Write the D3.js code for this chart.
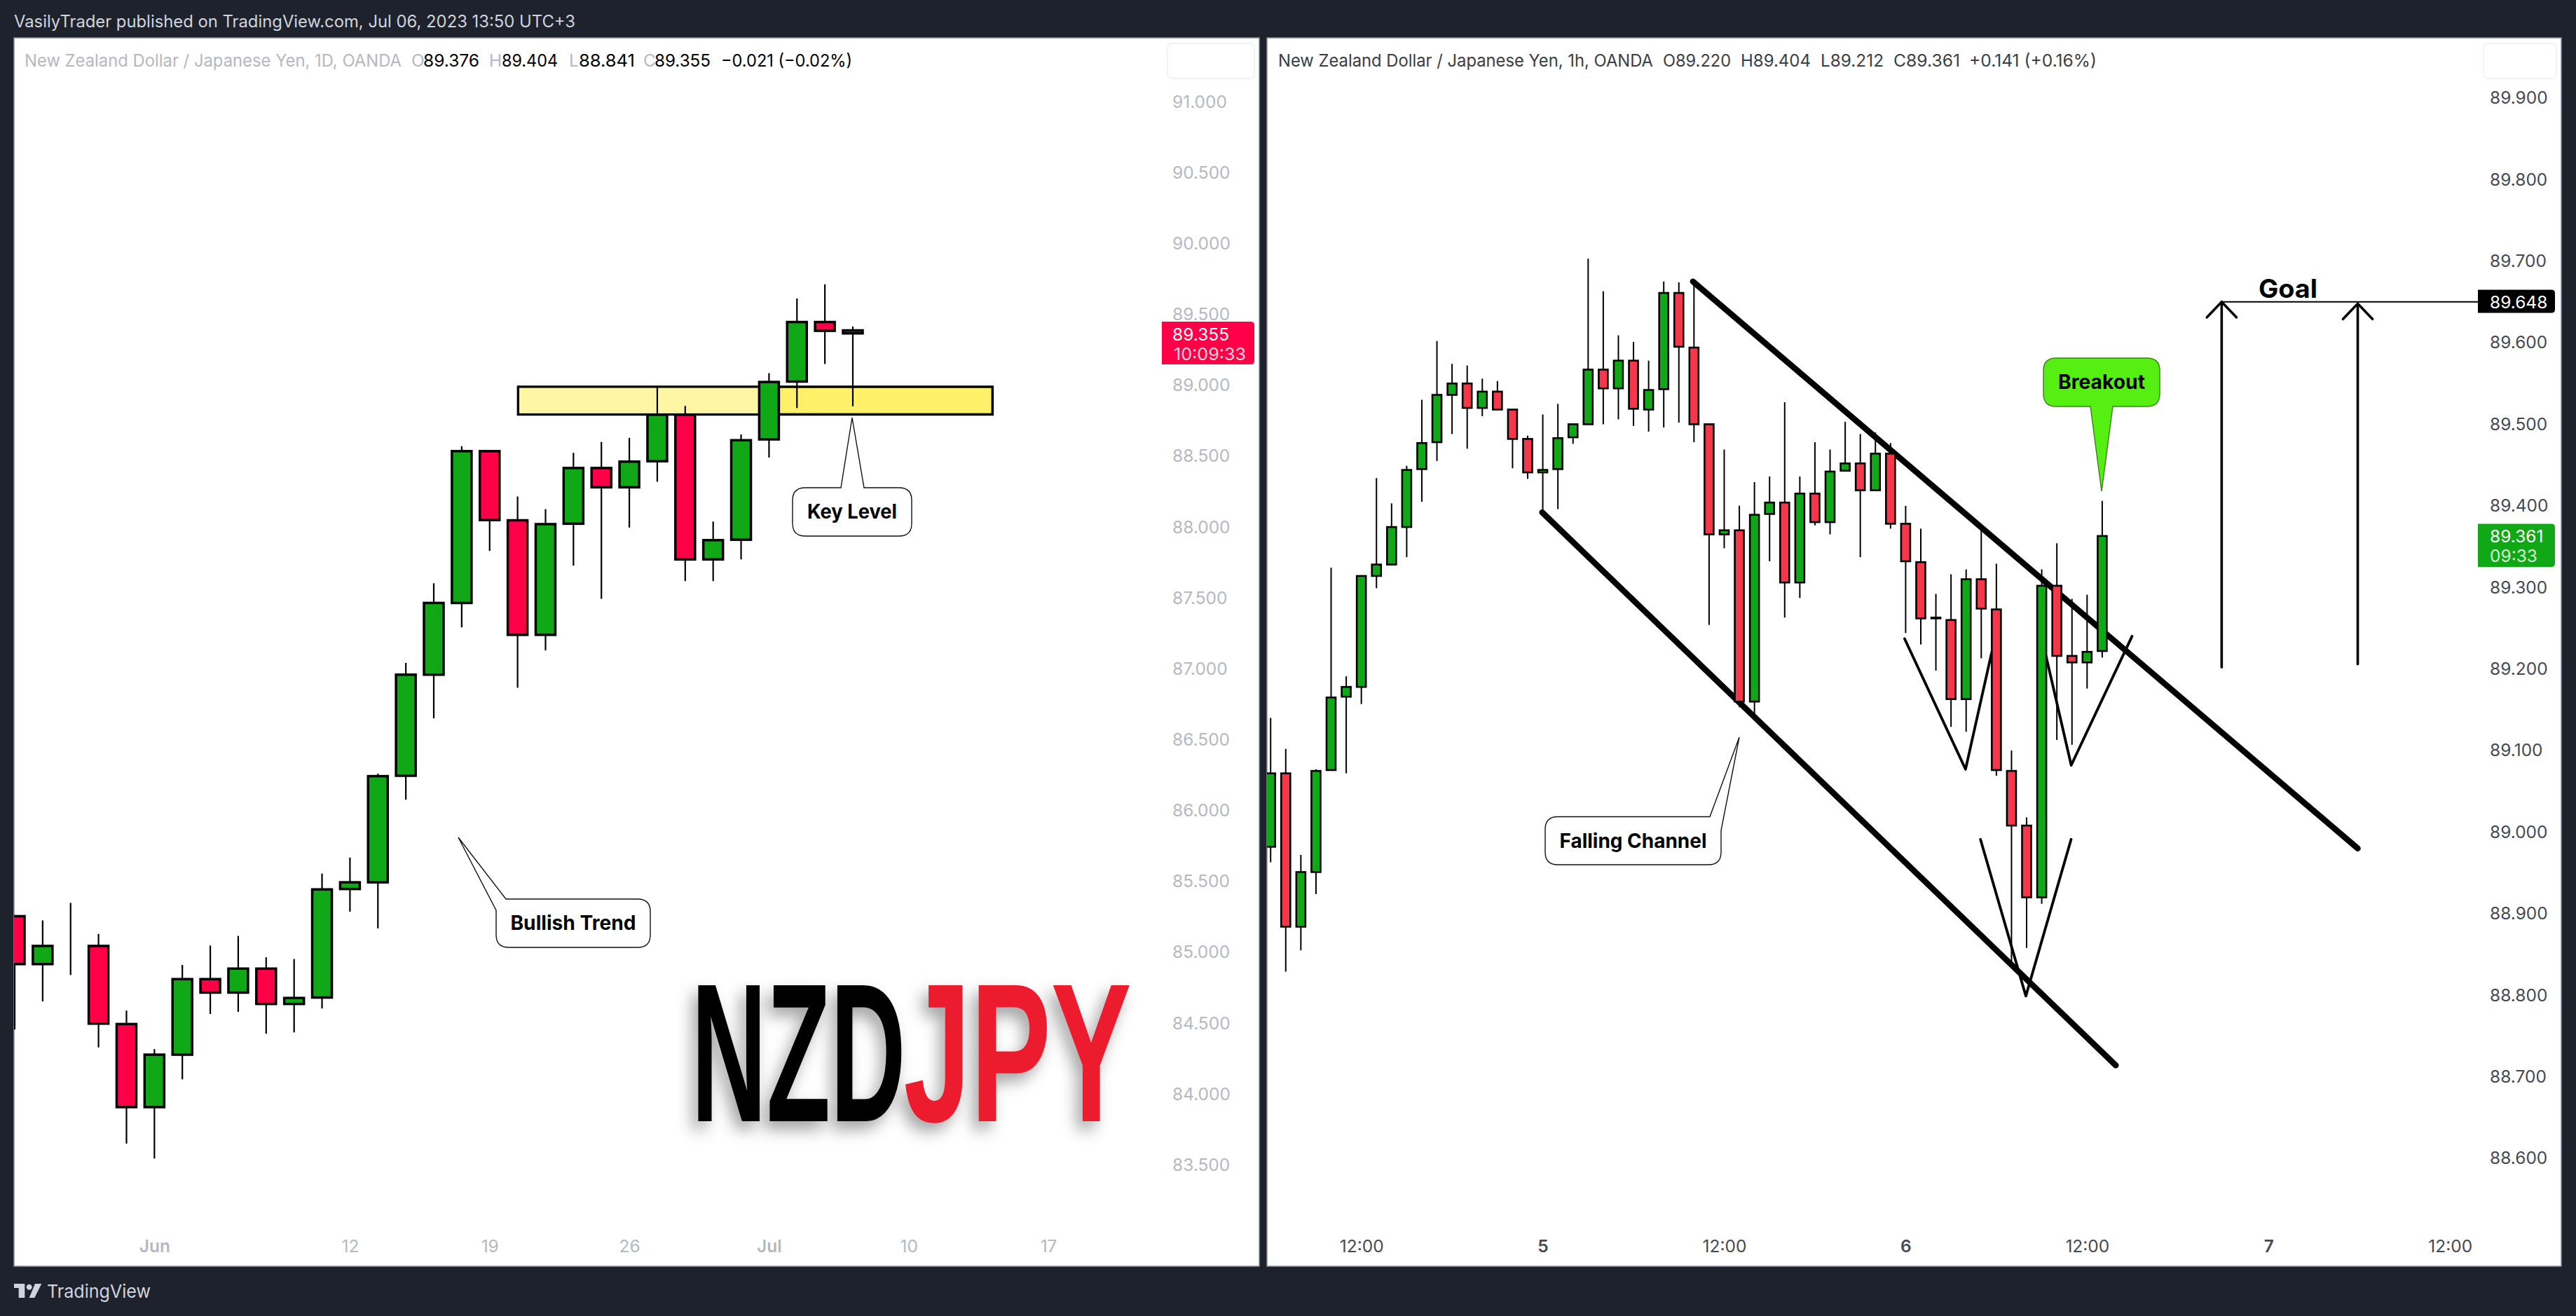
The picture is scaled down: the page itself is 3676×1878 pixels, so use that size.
<!DOCTYPE html>
<html><head><meta charset="utf-8">
<script src="https://cdnjs.cloudflare.com/ajax/libs/d3/7.8.5/d3.min.js"></script>
<style>
html,body{margin:0;padding:0;background:#1e222d;}
svg{display:block;font-family:Inter,Roboto,"Noto Sans",sans-serif;}
</style></head><body><svg id="c" width="3676" height="1878"></svg>
<script>
// ---------- Daily chart data ----------
const dailyOpen  = [85.243,84.905,85.033,85.033,84.482,83.896,84.266,84.799,84.704,84.873,84.624,84.669,85.435,85.482,86.234,86.947,87.453,88.524,88.036,87.228,88.012,88.405,88.269,88.453,88.781,87.760,87.899,88.607,89.015,89.435,89.376];
const dailyHigh  = [85.243,85.213,85.337,85.118,84.577,84.305,84.899,85.036,85.104,84.953,84.941,85.544,85.657,86.249,87.030,87.592,88.559,88.524,88.204,88.115,88.512,88.589,88.618,88.982,88.843,88.027,88.642,89.074,89.601,89.701,89.404];
const dailyLow   = [84.444,84.642,84.828,84.317,83.639,83.533,84.092,84.553,84.568,84.414,84.423,84.592,85.275,85.157,86.065,86.639,87.281,87.820,86.855,87.118,87.716,87.482,87.985,88.308,87.607,87.607,87.760,88.479,88.828,89.139,88.841];
const dailyClose = [84.905,85.033,85.033,84.485,83.896,84.266,84.799,84.704,84.873,84.624,84.666,85.432,85.482,86.231,86.947,87.453,88.524,88.038,87.228,88.009,88.405,88.269,88.450,88.781,87.760,87.896,88.601,89.012,89.435,89.373,89.355];
const dailyPriceTicks = [91,90.5,90,89.5,89,88.5,88,87.5,87,86.5,86,85.5,85,84.5,84,83.5];
const dailyTimeIdx    = [5,12,17,22,27,32,37];
const dailyTimeLabels = ["Jun","12","19","26","Jul","10","17"];
const keyLevelZone    = [18.02,35,88.978,88.783]; // bar from, bar to, price top, price bottom
const keyLevelPaleTo  = 27;

// ---------- Hourly chart data ----------
const hourlyOpen  = [88.980,89.070,88.882,88.949,89.074,89.164,89.176,89.312,89.326,89.372,89.443,89.476,89.534,89.548,89.518,89.538,89.516,89.480,89.439,89.443,89.482,89.498,89.565,89.542,89.576,89.516,89.541,89.659,89.592,89.498,89.363,89.368,89.158,89.388,89.402,89.304,89.413,89.378,89.441,89.450,89.417,89.462,89.376,89.329,89.261,89.258,89.161,89.308,89.271,89.073,89.006,88.918,89.300,89.214,89.206,89.220];
const hourlyHigh  = [89.138,89.100,88.970,89.075,89.322,89.189,89.312,89.432,89.401,89.447,89.528,89.600,89.572,89.570,89.554,89.551,89.516,89.484,89.510,89.523,89.498,89.701,89.661,89.607,89.599,89.576,89.673,89.672,89.674,89.498,89.467,89.398,89.427,89.434,89.525,89.434,89.476,89.467,89.501,89.486,89.488,89.475,89.398,89.370,89.290,89.314,89.320,89.369,89.327,89.098,89.016,89.320,89.352,89.284,89.289,89.404];
const hourlyLow   = [88.961,88.827,88.853,88.922,89.074,89.070,89.155,89.297,89.326,89.335,89.403,89.453,89.486,89.468,89.508,89.516,89.444,89.431,89.390,89.394,89.474,89.498,89.498,89.504,89.496,89.489,89.494,89.500,89.476,89.252,89.346,89.151,89.143,89.330,89.261,89.285,89.374,89.363,89.441,89.335,89.417,89.370,89.242,89.228,89.196,89.127,89.121,89.211,89.067,88.835,88.856,88.910,89.111,89.105,89.174,89.212];
const hourlyClose = [89.070,88.882,88.949,89.073,89.163,89.176,89.312,89.326,89.372,89.442,89.475,89.534,89.548,89.518,89.538,89.516,89.480,89.439,89.442,89.481,89.498,89.565,89.542,89.576,89.517,89.540,89.659,89.593,89.498,89.363,89.368,89.158,89.387,89.402,89.304,89.413,89.378,89.440,89.450,89.417,89.462,89.376,89.330,89.260,89.260,89.161,89.308,89.272,89.074,89.006,88.918,89.300,89.214,89.206,89.219,89.361];
const hourlyPriceTicks = [89.9,89.8,89.7,89.6,89.5,89.4,89.3,89.2,89.1,89.0,88.9,88.8,88.7,88.6];
const hourlyTimeIdx    = [6,18,30,42,54,66,78];
const hourlyTimeLabels = ["12:00","5","12:00","6","12:00","7","12:00"];
const hourlyBoldLabels = ["5","6","7"];
const channelUpper = [[27.93,89.673],[71.9,88.978]];
const channelLower = [[17.96,89.390],[55.9,88.712]];
const wedgeA = [[41.93,89.235],[45.96,89.075],[47.87,89.233]];
const wedgeB = [[51.07,89.231],[52.95,89.080],[56.97,89.238]];
const wedgeC = [[46.95,88.989],[49.95,88.797],[52.94,88.989]];
const goalPrice = 89.648;
const goalArrows = [[62.9,89.200,0],[71.9,89.204,2.5]];  // bar, foot price, tip gap below the goal line

// ---------- Style ----------
const GREEN="#11a818", RED_D="#ff0048", RED_H="#f4374a", DARK="#1e222d", LIME="#55f011";
const AXIS_D="#b6b8c1", AXIS_H="#454955", FS=24.5;

const svg=d3.select("#c");
const defs=svg.append("defs");
function clip(id,x,y,w,h){defs.append("clipPath").attr("id",id).append("rect").attr("x",x).attr("y",y).attr("width",w).attr("height",h);}
const PL={x0:20,x1:1797,y0:54,y1:1807}, PR={x0:1808,x1:3655,y0:54,y1:1807};
clip("cl",PL.x0,PL.y0,PL.x1-PL.x0,PL.y1-PL.y0);
clip("cr",PR.x0,PR.y0,PR.x1-PR.x0,PR.y1-PR.y0);
const sh=defs.append("filter").attr("id","shadow").attr("x","-20%").attr("y","-20%").attr("width","140%").attr("height","150%");
sh.append("feDropShadow").attr("dx",-8).attr("dy",12).attr("stdDeviation",11).attr("flood-color","#000").attr("flood-opacity",.36);

svg.append("rect").attr("width",3676).attr("height",1878).attr("fill",DARK);
[PL,PR].forEach(p=>svg.append("rect").attr("x",p.x0).attr("y",p.y0).attr("width",p.x1-p.x0).attr("height",p.y1-p.y0).attr("fill","#fff").attr("stroke","#8a8d96").attr("stroke-width",1.5));

// scales
const xD=d3.scaleLinear().domain([0,30]).range([21,1217]);
const yD=d3.scaleLinear().domain([91,83.5]).range([143,1660]);
const xH=d3.scaleLinear().domain([0,55]).range([1813.2,2999.9]);
const yH=d3.scaleLinear().domain([89.9,88.6]).range([137.5,1650.7]);

function bars(g,x,y,o,h,l,c,bw,sw,wick,red){
  const rows=d3.range(o.length).map(i=>({i,o:o[i],h:h[i],l:l[i],c:c[i]}));
  g.selectAll(".w").data(rows).join("line").attr("class","w")
    .attr("x1",d=>x(d.i)).attr("x2",d=>x(d.i)).attr("y1",d=>y(d.h)).attr("y2",d=>y(d.l))
    .attr("stroke","#000").attr("stroke-width",wick);
  g.selectAll(".b").data(rows).join("rect").attr("class","b")
    .attr("x",d=>x(d.i)-bw/2).attr("width",bw)
    .attr("y",d=>y(Math.max(d.o,d.c)))
    .attr("height",d=>Math.abs(y(d.o)-y(d.c)))
    .attr("fill",d=>d.c>=d.o?GREEN:red)
    .attr("stroke","#000").attr("stroke-width",sw);
}
function priceAxis(y,ticks,x,color){
  const a=svg.append("g").attr("transform",`translate(${x},0)`)
    .call(d3.axisRight(y).tickValues(ticks).tickFormat(d3.format(".3f")).tickSize(0).tickPadding(0));
  a.select(".domain").remove();
  a.selectAll("text").attr("fill",color).attr("font-size",FS).attr("font-family",'Inter,sans-serif').attr("dy",".42em");
}
function timeAxis(x,idx,labels,yp,color,boldSet){
  const a=svg.append("g").attr("transform",`translate(0,${yp})`)
    .call(d3.axisBottom(x).tickValues(idx).tickFormat((d,i)=>labels[i]).tickSize(0).tickPadding(0));
  a.select(".domain").remove();
  a.selectAll("text").attr("fill",color).attr("font-size",FS).attr("font-family",'Inter,sans-serif')
    .attr("font-weight",(d,i)=>boldSet.includes(labels[i])?600:400);
}
function txt(x,y,s,o={}){
  const t=svg.append("text").attr("x",x).attr("y",y).attr("dy",".35em").text(s)
    .attr("font-size",o.fs||FS).attr("fill",o.fill||"#000").attr("font-weight",o.fw||400)
    .attr("text-anchor",o.anchor||"start");
  if(o.len) t.attr("textLength",o.len).attr("lengthAdjust","spacingAndGlyphs");
  return t;
}

// ---------- Left pane ----------
const gL=svg.append("g").attr("clip-path","url(#cl)");
const z=keyLevelZone;
gL.append("rect").attr("x",xD(z[0])).attr("width",xD(z[1])-xD(z[0])).attr("y",yD(z[2])).attr("height",yD(z[3])-yD(z[2])).attr("fill","#fff06a").attr("stroke","#000").attr("stroke-width",3.5);
gL.append("rect").attr("x",xD(z[0])+1.75).attr("width",xD(keyLevelPaleTo)-xD(z[0])).attr("y",yD(z[2])+1.75).attr("height",yD(z[3])-yD(z[2])-3.5).attr("fill","#fff6a3");
bars(gL,xD,yD,dailyOpen,dailyHigh,dailyLow,dailyClose,28,3.5,2.2,RED_D);
priceAxis(yD,dailyPriceTicks,1673,AXIS_D);
timeAxis(xD,dailyTimeIdx,dailyTimeLabels,1770,AXIS_D,["Jun","Jul"]);

// ---------- Right pane ----------
const gR=svg.append("g").attr("clip-path","url(#cr)");
const line=d3.line().x(d=>xH(d[0])).y(d=>yH(d[1]));
[channelUpper,channelLower].forEach(c=>gR.append("path").attr("d",line(c)).attr("fill","none").attr("stroke","#000").attr("stroke-width",8.5).attr("stroke-linecap","round"));
[wedgeA,wedgeB,wedgeC].forEach(c=>gR.append("path").attr("d",line(c)).attr("fill","none").attr("stroke","#000").attr("stroke-width",3.8).attr("stroke-linecap","round").attr("stroke-linejoin","round"));
bars(gR,xH,yH,hourlyOpen,hourlyHigh,hourlyLow,hourlyClose,13,2.6,2,RED_H);
// goal
gR.append("line").attr("x1",xH(goalArrows[0][0])).attr("x2",3536).attr("y1",yH(goalPrice)).attr("y2",yH(goalPrice)).attr("stroke","#000").attr("stroke-width",2);
goalArrows.forEach(a=>{
  const X=xH(a[0]),T=yH(goalPrice)+a[2];
  gR.append("path").attr("d",`M${X},${yH(a[1])}V${T}M${X-21},${T+22}L${X},${T}L${X+21},${T+22}`).attr("fill","none").attr("stroke","#000").attr("stroke-width",3.6).attr("stroke-linecap","round");
});
priceAxis(yH,hourlyPriceTicks,3553,AXIS_H);
timeAxis(xH,hourlyTimeIdx,hourlyTimeLabels,1770,AXIS_H,hourlyBoldLabels);
txt(3265,412,"Goal",{fs:37,fw:700,anchor:"middle",len:84});

// ---------- Callouts ----------
// side: where the pointer leaves the box; a,b are the two points on the outline it joins
function callout(c){
  const {x0,x1,y0,y1}=c, r=18, T=c.tip, A=c.a, B=c.b;
  const cTL=`L${x0},${y0+r}Q${x0},${y0} ${x0+r},${y0}`, cTR=`L${x1-r},${y0}Q${x1},${y0} ${x1},${y0+r}`,
        cBR=`L${x1},${y1-r}Q${x1},${y1} ${x1-r},${y1}`, cBL=`L${x0+r},${y1}Q${x0},${y1} ${x0},${y1-r}`;
  let d;
  if(c.side==="top")    d=`M${x0+r},${y0}L${A},${y0}L${T[0]},${T[1]}L${B},${y0}${cTR}${cBR}${cBL}${cTL}Z`;
  if(c.side==="bottom") d=`M${x0+r},${y0}${cTR}${cBR}L${B},${y1}L${T[0]},${T[1]}L${A},${y1}${cBL}${cTL}Z`;
  if(c.side==="tl")     d=`M${x0},${B}L${T[0]},${T[1]}L${A},${y0}${cTR}${cBR}${cBL}Z`;
  if(c.side==="tr")     d=`M${x0+r},${y0}L${A},${y0}L${T[0]},${T[1]}L${x1},${B}${cBR}${cBL}${cTL}Z`;
  svg.append("path").attr("d",d).attr("fill",c.fill||"#fff").attr("stroke",c.stroke||"#111").attr("stroke-width",1.4);
  txt((x0+x1)/2,(y0+y1)/2,c.text,{fs:28,fw:700,anchor:"middle",len:c.len});
}
callout({text:"Key Level",x0:1131,x1:1301,y0:696,y1:765,side:"top",a:1200,b:1233,tip:[1216,596],len:128});
callout({text:"Bullish Trend",x0:708,x1:928,y0:1283,y1:1352,side:"tl",a:722,b:1299,tip:[654,1195],len:179});
callout({text:"Falling Channel",x0:2205,x1:2456,y0:1165.5,y1:1234,side:"tr",a:2440,b:1185,tip:[2482,1052],len:210});
callout({text:"Breakout",x0:2916,x1:3082,y0:511,y1:580,side:"bottom",a:2983,b:3015,tip:[2999,701],fill:LIME,stroke:"#3d7d1c",len:124});

// ---------- Price labels ----------
function tag(x,y,w,h,color){
  svg.append("path").attr("d",`M${x},${y}H${x+w-5}Q${x+w},${y} ${x+w},${y+5}V${y+h-5}Q${x+w},${y+h} ${x+w-5},${y+h}H${x}Z`).attr("fill",color);
}
tag(1658,459,132,61,RED_D);
txt(1673,477,"89.355",{fill:"#fff"});
txt(1675,505,"10:09:33",{fill:"#ffd5df",len:103});
tag(3536,413.5,110,33,"#000");
txt(3553,431,"89.648",{fill:"#fff"});
tag(3536,747.5,110,61.5,GREEN);
txt(3553,765,"89.361",{fill:"#fff"});
txt(3553,793,"09:33",{fill:"#d4f0d5"});

// ---------- Legends ----------
const PALE="#b6b8c1", INK="#3a3e49";
txt(35,86,"New Zealand Dollar / Japanese Yen, 1D, OANDA",{fill:PALE,len:538});
[["O",587],["H",698],["L",812],["C",918]].forEach(a=>txt(a[1],86,a[0],{fill:PALE}));
[["89.376",604],["89.404",716],["88.841",826],["89.355",934]].forEach(a=>txt(a[1],86,a[0],{fill:"#000",len:80}));
txt(1029,86,"−0.021 (−0.02%)",{fill:"#000",len:187});
txt(1824,86,"New Zealand Dollar / Japanese Yen, 1h, OANDA",{fill:INK,len:535});
[["O89.220",2373,97],["H89.404",2484,100],["L89.212",2598,90],["C89.361",2702,95]].forEach(a=>txt(a[1],86,a[0],{fill:INK,len:a[2]}));
txt(2810,86,"+0.141 (+0.16%)",{fill:INK,len:182});
[[1666,124],[3544,104]].forEach(a=>svg.append("rect").attr("x",a[0]).attr("y",62).attr("width",a[1]).attr("height",50).attr("rx",6).attr("fill","#fff").attr("stroke","#f0f3fa").attr("stroke-width",2));

// ---------- Logo word ----------
const logo=svg.append("g").attr("filter","url(#shadow)").attr("font-family",'"Liberation Sans Narrow","Liberation Sans",sans-serif').attr("font-weight",700).attr("font-size",282);
[["NZD",986.5,306,"#000"],["JPY",1289.5,325,"#ec1c2e"]].forEach(w=>{
  const t=logo.append("text").attr("fill",w[3]).text(w[0]);
  const sx=w[2]/t.node().getComputedTextLength();
  t.attr("transform",`translate(${w[1]},1600) scale(${sx},1)`);
});

// ---------- Frame text ----------
txt(20,31,"VasilyTrader published on TradingView.com, Jul 06, 2023 13:50 UTC+3",{fill:"#d1d4dc",fs:24,len:801});
svg.append("path").attr("d","M20,1832H35.3V1852H26.7V1838H20ZM41.7,1852L50,1832H59.3L49.3,1852ZM41.7,1832.7a4,4 0 1 0 .01,0Z").attr("fill","#d1d4dc");
txt(67,1843,"TradingView",{fill:"#d1d4dc",fs:26,len:148});
</script></body></html>
